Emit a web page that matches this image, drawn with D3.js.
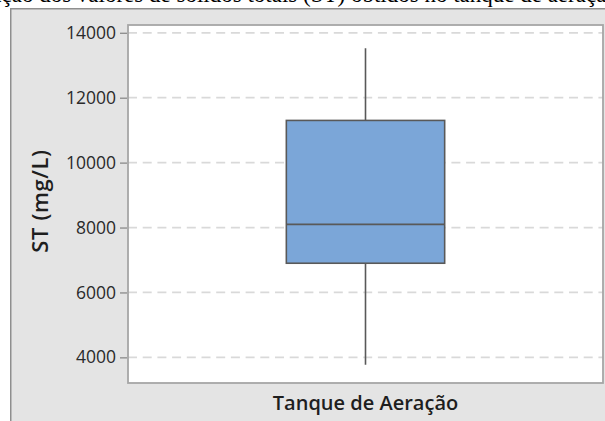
<!DOCTYPE html>
<html>
<head>
<meta charset="utf-8">
<script src="https://cdn.jsdelivr.net/npm/d3@7"></script>
<style>
  html, body { margin: 0; padding: 0; background: #ffffff; }
  svg { display: block; }
</style>
</head>
<body>
<svg id="chart" width="605" height="421"></svg>
<script>
// Sólidos totais (ST) no tanque de aeração – boxplot
const categories = ["Tanque de Aeração"];
const whiskerLow = [3770];
const q1Values = [6900];
const medianValues = [8100];
const q3Values = [11300];
const whiskerHigh = [13520];
const yTicks = [4000, 6000, 8000, 10000, 12000, 14000];
const yDomain = [3210, 14240];
const yTitle = "ST (mg/L)";
const caption = "Variação dos valores de sólidos totais (ST) obtidos no tanque de aeração";

const W = 605, H = 421;
const panel = { x: 10, y: 8 };
const plot = { left: 128, right: 603, top: 25, bottom: 383 };

const svg = d3.select("#chart");

// caption line above the figure (only its lower edge shows)
const cap = svg.append("text")
  .attr("y", 2)
  .attr("font-family", "'Liberation Serif', 'Times New Roman', serif")
  .attr("font-size", 23)
  .attr("fill", "#000")
  .text(caption);
const parenIdx = caption.indexOf("(");
const preW = cap.node().getSubStringLength(0, parenIdx);
cap.attr("x", 303 - preW);

// grey figure panel
svg.append("rect")
  .attr("x", panel.x).attr("y", panel.y)
  .attr("width", W - panel.x + 5).attr("height", H - panel.y + 5)
  .attr("fill", "#e4e4e4");
svg.append("line")
  .attr("x1", panel.x).attr("x2", W).attr("y1", panel.y + 0.75).attr("y2", panel.y + 0.75)
  .attr("stroke", "#8f8f8f").attr("stroke-width", 1.5);
svg.append("line")
  .attr("x1", panel.x + 0.75).attr("x2", panel.x + 0.75).attr("y1", panel.y).attr("y2", H)
  .attr("stroke", "#8f8f8f").attr("stroke-width", 1.5);

// scales
const x = d3.scaleBand()
  .domain(categories)
  .range([plot.left, plot.right])
  .paddingInner(0)
  .paddingOuter(1);
const y = d3.scaleLinear().domain(yDomain).range([plot.bottom, plot.top]);

// plot area
svg.append("rect")
  .attr("x", plot.left).attr("y", plot.top)
  .attr("width", plot.right - plot.left).attr("height", plot.bottom - plot.top)
  .attr("fill", "#ffffff");

// dashed horizontal gridlines
svg.append("g")
  .selectAll("line")
  .data(yTicks)
  .join("line")
  .attr("x1", plot.left).attr("x2", plot.right)
  .attr("y1", d => y(d)).attr("y2", d => y(d))
  .attr("stroke", "#d9d9d9")
  .attr("stroke-width", 1.8)
  .attr("stroke-dasharray", "9,5.7");

// plot frame
svg.append("rect")
  .attr("x", plot.left).attr("y", plot.top)
  .attr("width", plot.right - plot.left).attr("height", plot.bottom - plot.top)
  .attr("fill", "none")
  .attr("stroke", "#a6a6a6")
  .attr("stroke-width", 1.8);

// y axis
const yAxis = d3.axisLeft(y).tickValues(yTicks).tickSize(7).tickPadding(4).tickFormat(d3.format("d"));
const gy = svg.append("g").attr("transform", `translate(${plot.left - 1},0)`).call(yAxis);
gy.select(".domain").remove();
gy.selectAll(".tick line").attr("stroke", "#8a8a8a").attr("stroke-width", 1.3);
gy.selectAll(".tick text")
  .attr("font-family", "'Open Sans', 'Noto Sans', sans-serif")
  .attr("font-size", 17.5)
  .attr("fill", "#2a2a2a");

// axis titles
svg.append("text")
  .attr("transform", `translate(48,${(plot.top + plot.bottom) / 2 - 3}) rotate(-90)`)
  .attr("text-anchor", "middle")
  .attr("font-family", "'Open Sans', 'Noto Sans', sans-serif")
  .attr("font-weight", 600)
  .attr("font-size", 22)
  .attr("letter-spacing", 0.6)
  .attr("fill", "#1e1e1e")
  .text(yTitle);

svg.append("g")
  .selectAll("text")
  .data(categories)
  .join("text")
  .attr("x", d => x(d) + x.bandwidth() / 2)
  .attr("y", 410)
  .attr("text-anchor", "middle")
  .attr("font-family", "'Open Sans', 'Noto Sans', sans-serif")
  .attr("font-weight", 600)
  .attr("font-size", 20)
  .attr("fill", "#1e1e1e")
  .text(d => d);

// boxplot
const boxes = categories.map((c, i) => ({
  cat: c, lo: whiskerLow[i], q1: q1Values[i], med: medianValues[i], q3: q3Values[i], hi: whiskerHigh[i]
}));
const g = svg.append("g");
const stroke = "#595959";

g.selectAll(".whisker")
  .data(boxes)
  .join("line")
  .attr("class", "whisker")
  .attr("x1", d => x(d.cat) + x.bandwidth() / 2)
  .attr("x2", d => x(d.cat) + x.bandwidth() / 2)
  .attr("y1", d => y(d.hi))
  .attr("y2", d => y(d.lo))
  .attr("stroke", stroke)
  .attr("stroke-width", 1.6);

g.selectAll(".box")
  .data(boxes)
  .join("rect")
  .attr("class", "box")
  .attr("x", d => x(d.cat))
  .attr("width", x.bandwidth())
  .attr("y", d => y(d.q3))
  .attr("height", d => y(d.q1) - y(d.q3))
  .attr("fill", "#7ba6d8")
  .attr("stroke", stroke)
  .attr("stroke-width", 1.6);

g.selectAll(".median")
  .data(boxes)
  .join("line")
  .attr("class", "median")
  .attr("x1", d => x(d.cat))
  .attr("x2", d => x(d.cat) + x.bandwidth())
  .attr("y1", d => y(d.med))
  .attr("y2", d => y(d.med))
  .attr("stroke", stroke)
  .attr("stroke-width", 1.8);
</script>
</body>
</html>
